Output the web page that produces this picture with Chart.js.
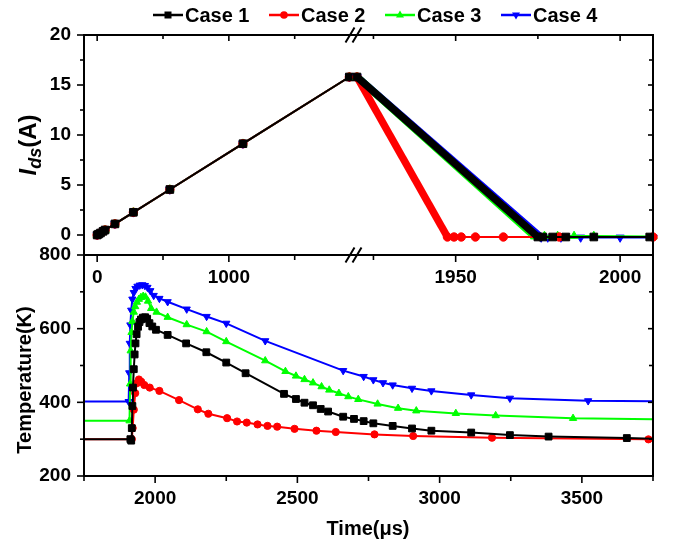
<!DOCTYPE html>
<html lang="en">
<head>
<meta charset="UTF-8">
<title>Ids and junction temperature</title>
<script src="https://cdn.jsdelivr.net/npm/chart.js@4"></script>
<style>
    body { margin: 0; background: #fff; font-family: "Liberation Sans", Arial, sans-serif; color: #000; }
    #wrap { position: relative; width: 674px; height: 547px; overflow: hidden; }
    .layer { position: absolute; left: 0; top: 0; width: 674px; height: 547px; }
    .title { position: absolute; font-weight: bold; font-size: 20px; white-space: nowrap; line-height: 24px; }
    .rot { transform: translate(-50%, -50%) rotate(-90deg); }
    #xlab { left: 368px; top: 528px; transform: translate(-50%, -50%); }
    #ylabTop { left: 31px; top: 145px; font-size: 24px; line-height: 28px; }
    #ylabBot { left: 24px; top: 380px; }
    #ylabTop sub { font-size: 18px; vertical-align: -5px; }
    #legend { position: absolute; left: 153px; top: 5px; display: flex; }
    .item { width: 116px; display: flex; align-items: center; font-weight: bold; font-size: 20px; line-height: 20px; }
    .item svg { margin-right: 2px; }
</style>
</head>
<body>
<div id="wrap">
    <div class="layer"><canvas id="topLeft"></canvas></div>
    <div class="layer"><canvas id="topRight"></canvas></div>
    <div class="layer"><canvas id="bottom"></canvas></div>
    <div id="legend"></div>
    <div class="title rot" id="ylabTop"><i>I</i><sub><i>ds</i></sub>(A)</div>
    <div class="title rot" id="ylabBot">Temperature(K)</div>
    <div class="title" id="xlab">Time(μs)</div>
</div>
<script>
    Chart.defaults.font.family = '"Liberation Sans", Arial, sans-serif';
    Chart.defaults.color = '#000';

    // ---- data ----
    const caseNames = ['Case 1', 'Case 2', 'Case 3', 'Case 4'];

    // current ramp, shared by all cases (left part of broken axis)
    const rampTime = [0, 10, 25, 45, 60, 135, 275, 552, 1107, 1915];
    const rampCurrent = [0, 0.08, 0.2, 0.37, 0.5, 1.11, 2.27, 4.55, 9.13, 15.8];

    // turn-off (right part of broken axis)
    const fallTime1 = [1920, 1975, 1976.5, 1979.5, 1983.5, 1992, 2009];
    const fallCurrent1 = [15.8, -0.2, -0.2, -0.2, -0.2, -0.2, -0.2];
    const fallTime2 = [1920, 1947.5, 1949.5, 1951.7, 1956, 1964.5, 1981.5, 2010];
    const fallCurrent2 = [15.8, -0.2, -0.2, -0.2, -0.2, -0.2, -0.2, -0.2];
    const fallTime3 = [1920, 1974, 1977, 1981, 1986, 1992, 2010];
    const fallCurrent3 = [15.8, -0.15, -0.1, -0.1, -0.1, -0.1, -0.15];
    const fallTime4 = [1920, 1976, 1978, 1982, 1988, 2000, 2010];
    const fallCurrent4 = [15.8, -0.25, -0.25, -0.25, -0.25, -0.25, -0.25];

    // temperature
    const tempTime1 = [1750, 1913, 1916, 1918, 1920, 1922, 1925, 1928, 1931, 1935, 1940, 1945, 1950, 1957, 1965, 1972, 1980, 1990,
        2003, 2044, 2109, 2180, 2250, 2318, 2453, 2495, 2525, 2555, 2582, 2608, 2661, 2699, 2733, 2767, 2835, 2903, 2971,
        3111, 3247, 3383, 3658, 3750];
    const tempK1 = [300, 300, 296, 330, 390, 440, 490, 530, 560, 585, 605, 618, 625, 630, 631, 627, 615, 606,
        597, 583, 560, 536, 508, 479, 423, 409, 399, 392, 382, 375, 361, 355, 349, 343, 336, 329, 323,
        318, 311, 307, 303, 301];
    const tempTime2 = [1750, 1918, 1921, 1925, 1930, 1936, 1943, 1951, 1962, 1981, 2015, 2084, 2150, 2187, 2253, 2288, 2322,
        2360, 2395, 2429, 2490, 2567, 2635, 2771, 2907, 3184, 3734, 3750];
    const tempK2 = [300, 300, 330, 380, 425, 452, 462, 456, 447, 440, 431, 406, 381, 369, 357, 348, 345,
        340, 336, 334, 328, 323, 319.5, 313, 308.6, 304, 299.5, 299.5];
    const tempTime3 = [1750, 1910, 1912, 1914, 1917, 1920, 1925, 1930, 1936, 1943, 1950, 1958, 1966, 1975, 1986, 2005, 2044,
        2111, 2181, 2250, 2387, 2458, 2495, 2525, 2555, 2585, 2612, 2646, 2679, 2714, 2782, 2854, 2918, 3057, 3197,
        3469, 3750];
    const tempK3 = [350, 350, 450, 540, 590, 620, 645, 660, 672, 680, 685, 688, 686, 675, 655, 645, 631,
        611, 592, 565, 513, 484, 471.5, 462, 453, 442.5, 433.5, 424.5, 415.5, 408, 395.5, 384, 377, 370, 364,
        356.6, 354];
    const tempTime4 = [1750, 1907, 1909, 1911, 1913, 1916, 1920, 1925, 1931, 1938, 1946, 1955, 1964, 1973, 1983, 1995, 2015,
        2044, 2111, 2181, 2250, 2387, 2661, 2733, 2767, 2801, 2835, 2903, 2971, 3111, 3247, 3522, 3750];
    const tempK4 = [402, 402, 480, 560, 610, 650, 680, 698, 709, 715, 718, 719, 717, 712, 703, 690, 682,
        673, 653, 633, 614.5, 567, 486, 470, 461, 453, 447, 438, 431, 420, 411, 404, 403];

    // ticks
    const leftTimeMajor = [0, 1000];
    const leftTimeMinor = [500, 1500];
    const rightTimeMajor = [1950, 2000];
    const rightTimeMinor = [1925, 1975];
    const currentMajor = [0, 5, 10, 15, 20];
    const currentMinor = [2.5, 7.5, 12.5, 17.5];
    const timeMajor = [2000, 2500, 3000, 3500];
    const timeMinor = [1750, 2250, 2750, 3250, 3750];
    const tempMajor = [200, 400, 600, 800];
    const tempMinor = [300, 500, 700];

    // ---- styles ----
    const colors = ['#000000', '#ff0000', '#00ff00', '#0000ff'];
    const markers = ['rect', 'circle', 'triangle', 'triangle'];
    const markerRot = [0, 0, 0, 180];
    const markerSize = [4.8, 3.6, 4.2, 4.2];
    const W = 674, H = 547;

    function pts(xs, ys) {
        return xs.map((x, k) => ({ x: x, y: ys[k] }));
    }

    function series(i, xs, ys, extra) {
        return Object.assign({
            label: caseNames[i],
            data: pts(xs, ys),
            borderColor: colors[i],
            backgroundColor: colors[i],
            borderWidth: 2,
            pointStyle: markers[i],
            pointRotation: markerRot[i],
            pointRadius: markerSize[i],
            pointBorderWidth: 1,
            tension: 0,
            clip: 8
        }, extra || {});
    }

    // size = room given to the axis box (labels are clipped to it)
    function axis(pos, min, max, major, minor, showLabels, pad, size) {
        return {
            type: 'linear',
            position: pos,
            min: min,
            max: max,
            boxSize: size,
            grid: { display: false, drawTicks: false },
            border: { display: false },
            afterFit: s => { if (s.isHorizontal()) s.height = size; else s.width = size; },
            afterBuildTicks: s => {
                s.ticks = major.concat(minor).sort((a, b) => a - b).map(v => ({ value: v }));
            },
            ticks: {
                autoSkip: false,
                maxRotation: 0,
                padding: pad,
                font: { size: 19, weight: 'bold' },
                callback: v => (showLabels && major.includes(v)) ? String(v) : ''
            }
        };
    }

    // frame lines, tick marks and axis break drawn around each plot area
    function decor(cfg) {
        return {
            id: 'decor',
            afterDraw(chart) {
                const a = chart.chartArea, ctx = chart.ctx;
                const l = a.left - (cfg.extendLeft || 0), r = a.right + (cfg.extendRight || 0);
                ctx.save();
                ctx.strokeStyle = '#000';
                ctx.lineWidth = 2;
                ctx.beginPath();
                if (cfg.sides.includes('top')) { ctx.moveTo(l - 1, a.top); ctx.lineTo(r + 1, a.top); }
                if (cfg.sides.includes('bottom')) { ctx.moveTo(l - 1, a.bottom); ctx.lineTo(r + 1, a.bottom); }
                if (cfg.sides.includes('left')) { ctx.moveTo(a.left, a.top); ctx.lineTo(a.left, a.bottom); }
                if (cfg.sides.includes('right')) { ctx.moveTo(a.right, a.top); ctx.lineTo(a.right, a.bottom); }
                ctx.stroke();

                ctx.lineWidth = 1.6;
                cfg.marks.forEach(m => {
                    const sc = chart.scales[m.scale];
                    const out = (m.side === 'bottom' || m.side === 'right') ? 1 : -1;
                    const sgn = m.inward ? -out : out;
                    [[m.major, m.len[0]], [m.minor, m.len[1]]].forEach(([vals, len]) => {
                        vals.forEach(v => {
                            const p = sc.getPixelForValue(v);
                            ctx.beginPath();
                            if (m.side === 'top' || m.side === 'bottom') {
                                const y = m.side === 'top' ? a.top : a.bottom;
                                ctx.moveTo(p, y); ctx.lineTo(p, y + sgn * len);
                            } else {
                                const x = m.side === 'left' ? a.left : a.right;
                                ctx.moveTo(x, p); ctx.lineTo(x + sgn * len, p);
                            }
                            ctx.stroke();
                        });
                    });
                });

                if (cfg.breakMark) {
                    const bx = a.left - cfg.extendLeft;
                    ctx.lineWidth = 2;
                    [a.top, a.bottom].forEach(y => {
                        ctx.beginPath();
                        [-3.5, 3.5].forEach(d => {
                            ctx.moveTo(bx + d - 4.5, y + 7.5);
                            ctx.lineTo(bx + d + 4.5, y - 7.5);
                        });
                        ctx.stroke();
                    });
                }
                ctx.restore();
            }
        };
    }

    // area = [left, top, right, bottom] of the plot box in page pixels
    function makeChart(id, area, scales, datasets, deco) {
        const pad = { left: area[0], top: area[1], right: W - area[2], bottom: H - area[3] };
        Object.values(scales).forEach(s => { pad[s.position] -= s.boxSize; });
        return new Chart(document.getElementById(id), {
            type: 'line',
            data: { datasets: datasets },
            options: {
                responsive: false,
                animation: false,
                events: [],
                layout: { padding: pad, autoPadding: false },
                plugins: { legend: { display: false }, tooltip: { enabled: false } },
                scales: scales
            },
            plugins: [decor(deco)]
        });
    }

    ['topLeft', 'topRight', 'bottom'].forEach(id => {
        const c = document.getElementById(id);
        c.width = W; c.height = H;
    });

    // top-left: ramp
    makeChart('topLeft', [84, 35, 350, 255], {
        x: axis('bottom', -100, 1920, leftTimeMajor, leftTimeMinor, true, 11, 45),
        y: axis('left', -2, 20, currentMajor, currentMinor, true, 13, 84)
    }, [0, 1, 2, 3].map(i => series(i, rampTime, rampCurrent, { pointRadius: markerSize[i] + 0.6 })), {
        sides: ['left', 'top', 'bottom'], extendRight: 3.5,
        marks: [
            { scale: 'x', side: 'bottom', inward: false, major: leftTimeMajor, minor: leftTimeMinor, len: [7, 5] },
            { scale: 'x', side: 'top', inward: true, major: leftTimeMajor, minor: leftTimeMinor, len: [6, 4] },
            { scale: 'y', side: 'left', inward: false, major: currentMajor, minor: currentMinor, len: [7, 4] }
        ]
    });

    // top-right: turn-off
    const fallTimes = [fallTime1, fallTime2, fallTime3, fallTime4];
    const fallCurrents = [fallCurrent1, fallCurrent2, fallCurrent3, fallCurrent4];
    const rightSets = [];
    [0, 1, 2, 3].forEach(i => {
        rightSets.push(series(i, fallTimes[i], fallCurrents[i], { pointRadius: markerSize[i] + 0.6 }));
        rightSets.push(series(i, fallTimes[i].slice(0, 2), fallCurrents[i].slice(0, 2), { borderWidth: 7.5, pointRadius: 0 }));
    });
    makeChart('topRight', [357, 35, 653, 255], {
        x: axis('bottom', 1920, 2010, rightTimeMajor, rightTimeMinor, true, 11, 45),
        y: axis('right', -2, 20, currentMajor, currentMinor, false, 0, 21)
    }, rightSets, {
        sides: ['right', 'top', 'bottom'], extendLeft: 3.5, breakMark: true,
        marks: [
            { scale: 'x', side: 'bottom', inward: false, major: rightTimeMajor, minor: rightTimeMinor, len: [7, 5] },
            { scale: 'x', side: 'top', inward: true, major: rightTimeMajor, minor: rightTimeMinor, len: [6, 4] },
            { scale: 'y', side: 'right', inward: true, major: currentMajor, minor: currentMinor, len: [5, 4] }
        ]
    });

    // bottom: temperature
    const tempTimes = [tempTime1, tempTime2, tempTime3, tempTime4];
    const temps = [tempK1, tempK2, tempK3, tempK4];
    makeChart('bottom', [84, 255, 653, 476], {
        x: axis('bottom', 1750, 3750, timeMajor, timeMinor, true, 11, 71),
        y: axis('left', 200, 800, tempMajor, tempMinor, true, 13, 84)
    }, [0, 1, 2, 3].map(i => series(i, tempTimes[i], temps[i], {
        pointRadius: c => (c.dataIndex === 0 || c.dataIndex === temps[i].length - 1) ? 0 : markerSize[i]
    })), {
        sides: ['left', 'right', 'bottom', 'top'],
        marks: [
            { scale: 'x', side: 'bottom', inward: false, major: timeMajor, minor: timeMinor, len: [7, 5] },
            { scale: 'y', side: 'left', inward: false, major: tempMajor, minor: tempMinor, len: [7, 4] },
            { scale: 'y', side: 'right', inward: true, major: tempMajor, minor: tempMinor, len: [5, 4] }
        ]
    });

    // legend
    function markerSvg(i) {
        const c = colors[i];
        let m;
        if (markers[i] === 'rect') m = '<rect x="11.5" y="3.5" width="7" height="7" fill="' + c + '"/>';
        else if (markers[i] === 'circle') m = '<circle cx="15" cy="7" r="3.8" fill="' + c + '"/>';
        else if (markerRot[i] === 0) m = '<polygon points="15,2.5 19,9.5 11,9.5" fill="' + c + '"/>';
        else m = '<polygon points="15,11.5 19,4.5 11,4.5" fill="' + c + '"/>';
        return '<svg width="30" height="14"><line x1="0" y1="7" x2="30" y2="7" stroke="' + c + '" stroke-width="2.5"/>' + m + '</svg>';
    }
    document.getElementById('legend').innerHTML = caseNames.map((n, i) =>
        '<div class="item">' + markerSvg(i) + '<span>' + n + '</span></div>').join('');
</script>
</body>
</html>
